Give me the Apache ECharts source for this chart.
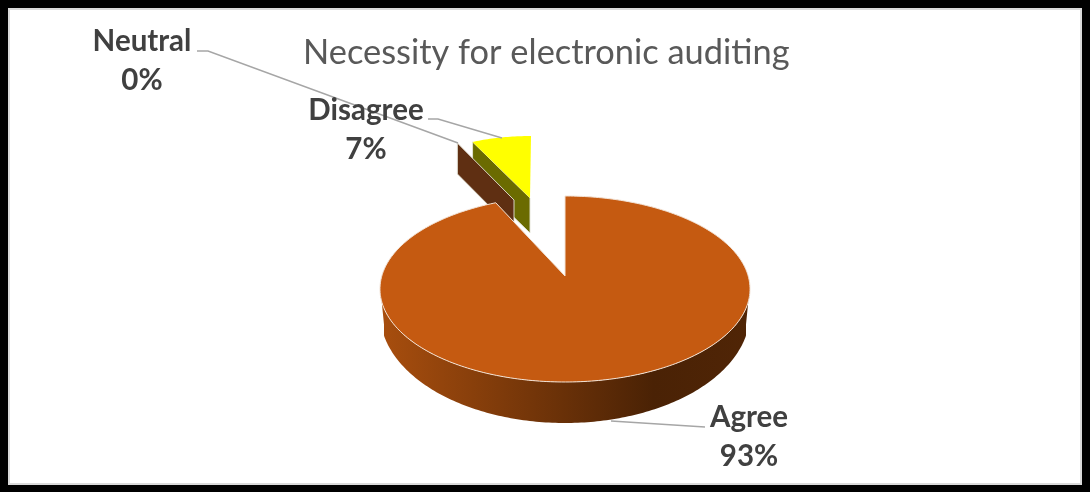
<!DOCTYPE html>
<html>
<head>
<meta charset="utf-8">
<style>html,body{margin:0;padding:0;background:#fff}#chart{width:1090px;height:492px}</style>
<script src="https://cdn.jsdelivr.net/npm/echarts@6/dist/echarts.min.js"></script>
</head>
<body>
<div id="chart"></div>
<script>
// Survey responses
const titleText = 'Necessity for electronic auditing';
const categories = ['Agree', 'Neutral', 'Disagree'];
const values = [93, 0, 7];
const sliceColors = ['#C55A11', '#A5500F', '#FFFF00'];

// Tilted disc geometry for the main slice (perspective projection of a unit circle)
const disc = { cx: 565, cy: 276, a: 183.2, b: 91.18, p: 0.1398 };
// Lower rim of the disc: a deeper ellipse trimmed to the width of the base
const base = { cy: 313, rx: 185, ry: 110, halfWidth: 181 };

function project(u, v) {
  const w = 1 + disc.p * v;
  return [disc.cx + disc.a * u / w, disc.cy - disc.b * v / w];
}

function projectBase(u, v) {
  const dx = Math.max(-base.halfWidth, Math.min(base.halfWidth, base.rx * u));
  return [disc.cx + dx, base.cy - base.ry * v];
}

function arcPoints(fn, from, to) {
  const pts = [];
  const steps = Math.max(1, Math.ceil(Math.abs(to - from)));
  for (let i = 0; i <= steps; i++) {
    const deg = from + (to - from) * i / steps;
    const r = deg * Math.PI / 180;
    pts.push(fn(Math.sin(r), Math.cos(r)));
  }
  return pts;
}

// Pulled-out slices, labels and leader lines
const sliceLayout = {
  Agree: {
    label: [749, 417],
    leader: [[611, 421], [705, 427]]
  },
  Neutral: {
    map: (u, v) => [514 + 133 * u, 200 - 63 * v],
    faceDepth: 31,
    faceColor: '#5F2F12',
    faceZ: 3,
    label: [142, 41],
    leader: [[197, 51], [208, 51], [458, 143]]
  },
  Disagree: {
    map: (u, v) => [530 + 137 * u + v, 198 - 62 * v],
    faceDepth: 35,
    faceColor: '#6B6B00',
    faceZ: 2,
    label: [366, 110],
    leader: [[428, 119], [438, 119], [502, 138]]
  }
};

const total = values.reduce((s, v) => s + v, 0);
const startAngles = values.map((_, i) => values.slice(0, i).reduce((s, v) => s + v, 0) / total * 360);

const leaderStyle = { stroke: '#A6A6A6', lineWidth: 1.5, fill: null };
const labelFont = 'bold 29.5px Lato, sans-serif';

function drawMainSlice(color, start, end) {
  const top = arcPoints(project, start, end);
  const rimTop = arcPoints(project, 96, 264);
  const rimBottom = arcPoints(projectBase, 264, 96);
  return [
    {
      type: 'polygon',
      z2: 5,
      shape: { points: rimTop.concat(rimBottom) },
      style: {
        fill: new echarts.graphic.LinearGradient(0, 0, 1, 0, [
          { offset: 0, color: '#A84E0E' },
          { offset: 0.74, color: '#4A2205' },
          { offset: 1, color: '#502506' }
        ])
      }
    },
    {
      type: 'polygon',
      z2: 6,
      shape: { points: top.concat([project(0, 0)]) },
      style: { fill: color, stroke: '#F3E3D6', lineWidth: 1 }
    }
  ];
}

function drawPulledSlice(layout, color, start, end) {
  const rad = start * Math.PI / 180;
  const apex = layout.map(0, 0);
  const rimPt = layout.map(Math.sin(rad), Math.cos(rad));
  const parts = [{
    type: 'polygon',
    z2: layout.faceZ,
    shape: {
      points: [
        rimPt, apex,
        [apex[0], apex[1] + layout.faceDepth],
        [rimPt[0], rimPt[1] + layout.faceDepth]
      ]
    },
    style: { fill: layout.faceColor, stroke: '#E4E4D8', lineWidth: 0.9 }
  }];
  if (end > start) {
    parts.push({
      type: 'polygon',
      z2: 4,
      shape: { points: arcPoints(layout.map, start, end).concat([apex]) },
      style: { fill: color }
    });
  }
  return parts;
}

function renderSlice(params, api) {
  const i = params.dataIndex;
  const name = categories[i];
  const value = api.value(1);
  const layout = sliceLayout[name];
  const start = startAngles[i];
  const end = start + value / total * 360;
  const marks = layout.map
    ? drawPulledSlice(layout, sliceColors[i], start, end)
    : drawMainSlice(sliceColors[i], start, end);
  marks.push({
    type: 'polyline',
    z2: 8,
    shape: { points: layout.leader },
    style: leaderStyle
  });
  marks.push({
    type: 'text',
    z2: 9,
    style: {
      text: name + '\n' + Math.round(value / total * 100) + '%',
      x: layout.label[0],
      y: layout.label[1] - 19,
      align: 'center',
      verticalAlign: 'top',
      font: labelFont,
      lineHeight: 39,
      fill: '#404040'
    }
  });
  return { type: 'group', children: marks };
}

const chart = echarts.init(document.getElementById('chart'), null, { renderer: 'canvas' });
chart.setOption({
  animation: false,
  backgroundColor: '#FFFFFF',
  title: {
    text: titleText,
    left: 298,
    top: 31,
    textStyle: {
      fontFamily: 'Lato, sans-serif',
      fontWeight: 'normal',
      fontSize: 34.4,
      color: '#595959'
    }
  },
  graphic: [
    { type: 'rect', z: -1, silent: true,
      shape: { x: 4, y: 4, width: 1082, height: 484 },
      style: { fill: null, stroke: '#000', lineWidth: 8 } },
    { type: 'rect', z: -1, silent: true,
      shape: { x: 9, y: 9, width: 1072, height: 475 },
      style: { fill: null, stroke: '#DADADA', lineWidth: 2 } }
  ],
  series: [{
    type: 'custom',
    coordinateSystem: 'none',
    renderItem: renderSlice,
    data: categories.map((c, i) => ({ name: c, value: [i, values[i]] }))
  }]
});
</script>
</body>
</html>
